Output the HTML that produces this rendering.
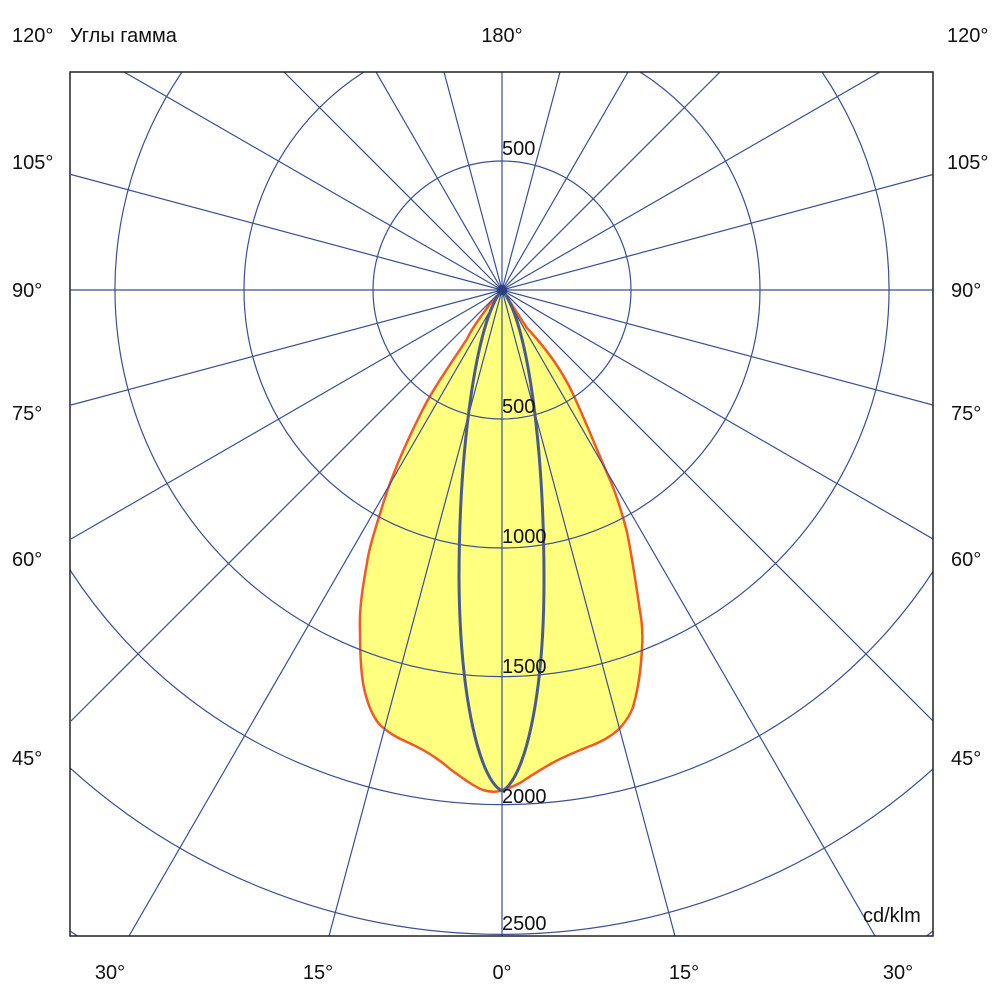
<!DOCTYPE html>
<html><head><meta charset="utf-8"><style>
html,body{margin:0;padding:0;background:#fff;width:1000px;height:1000px;overflow:hidden;}
svg{display:block;}
text{font-family:"Liberation Sans","DejaVu Sans",sans-serif;font-size:20px;fill:#111;}
</style></head><body>
<svg width="1000" height="1000" viewBox="0 0 1000 1000" xmlns="http://www.w3.org/2000/svg">
<defs><clipPath id="c"><rect x="70" y="72" width="863" height="864"/></clipPath></defs>
<g clip-path="url(#c)">
<path d="M502,290 C497,296 493,300 490,304 C480,318 472,328 467,339 C450,365 432,390 420,415 C405,445 392,475 383,504 C375,530 369,548 367,563 C362,590 359,612 360,632 C360,655 361,670 363,683 C366,700 372,716 380,725 C390,734 398,738 407,742 C425,750 440,760 450,769 C465,780 475,787 483,790 C490,792 496,792 500,791 C508,789 514,786 520,783 C535,773 548,765 560,759 C575,752 585,748 593,745 C605,740 614,734 620,728 C627,720 631,713 633,707 C638,690 641,668 642,649 C643,635 642,622 640,611 C636,585 632,556 627,532 C620,505 614,488 607,473 C595,445 585,420 573,394 C560,366 543,345 527,328 C515,310 508,298 502,290 Z" fill="#ffff80" stroke="#f05a28" stroke-width="2.5"/>
<g stroke="#3a4f94" stroke-width="1.2" fill="none">
<circle cx="502" cy="290" r="129"/>
<circle cx="502" cy="290" r="258"/>
<path d="M182,72 A387,387 0 1 0 822,72"/>
<path d="M70,570 A515,515 0 0 0 934,570"/>
<path d="M70,768 A644,644 0 0 0 934,768"/>
<path d="M70,931 A773,773 0 0 0 77.5,936"/>
<path d="M926.5,936 A773,773 0 0 0 933,931"/>
<line x1="70" y1="290" x2="933" y2="290"/>
<line x1="502" y1="72" x2="502" y2="936"/>
<line x1="502" y1="290" x2="675" y2="936"/>
<line x1="502" y1="290" x2="875" y2="936"/>
<line x1="502" y1="290" x2="933" y2="721"/>
<line x1="502" y1="290" x2="933" y2="539"/>
<line x1="502" y1="290" x2="933" y2="405"/>
<line x1="502" y1="290" x2="329" y2="936"/>
<line x1="502" y1="290" x2="129" y2="936"/>
<line x1="502" y1="290" x2="71" y2="721"/>
<line x1="502" y1="290" x2="71" y2="539"/>
<line x1="502" y1="290" x2="71" y2="405"/>
<line x1="502" y1="290" x2="560" y2="72"/>
<line x1="502" y1="290" x2="628" y2="72"/>
<line x1="502" y1="290" x2="720" y2="72"/>
<line x1="502" y1="290" x2="880" y2="72"/>
<line x1="502" y1="290" x2="933" y2="174.5"/>
<line x1="502" y1="290" x2="444" y2="72"/>
<line x1="502" y1="290" x2="376" y2="72"/>
<line x1="502" y1="290" x2="284" y2="72"/>
<line x1="502" y1="290" x2="124" y2="72"/>
<line x1="502" y1="290" x2="71" y2="174.5"/>
</g>
<path d="M502,290 C476,320 459,450 459,580 C460,700 480,780 502,791 C524,780 544,700 544,580 C544,450 528,320 502,290 Z" fill="none" stroke="#4a5a8c" stroke-width="3"/>
<circle cx="502" cy="290" r="5" fill="#2d3f80"/>
</g>
<rect x="70" y="72" width="863" height="864" fill="none" stroke="#222" stroke-width="1.5"/>
<text x="502" y="155">500</text>
<text x="502" y="413">500</text>
<text x="502" y="543">1000</text>
<text x="502" y="673">1500</text>
<text x="502" y="803">2000</text>
<text x="502" y="930">2500</text>
<text x="863" y="922">cd/klm</text>
<text x="12" y="42">120°</text>
<text x="70" y="42">Углы гамма</text>
<text x="502" y="42" text-anchor="middle">180°</text>
<text x="947" y="42">120°</text>
<text x="12" y="169">105°</text><text x="947" y="169">105°</text>
<text x="12" y="297">90°</text><text x="951" y="297">90°</text>
<text x="12" y="420">75°</text><text x="951" y="420">75°</text>
<text x="12" y="566">60°</text><text x="951" y="566">60°</text>
<text x="12" y="765">45°</text><text x="951" y="765">45°</text>
<text x="110" y="979" text-anchor="middle">30°</text>
<text x="318" y="979" text-anchor="middle">15°</text>
<text x="502" y="979" text-anchor="middle">0°</text>
<text x="684" y="979" text-anchor="middle">15°</text>
<text x="898" y="979" text-anchor="middle">30°</text>
</svg>
</body></html>
